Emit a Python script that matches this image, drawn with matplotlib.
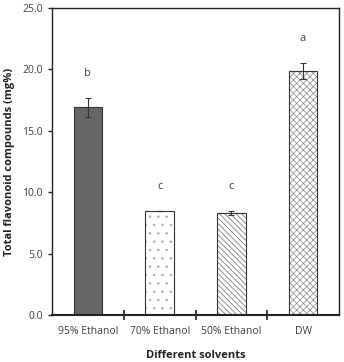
import matplotlib
matplotlib.use("Agg")
import matplotlib.pyplot as plt
import numpy as np

categories = ["95% Ethanol", "70% Ethanol", "50% Ethanol", "DW"]
values = [16.9, 8.45, 8.3, 19.9]
errors = [0.8, 0.0, 0.15, 0.65]
letters = ["b", "c", "c", "a"]
yticks = [0.0, 5.0, 10.0, 15.0, 20.0, 25.0]

plt.rcParams['font.family'] = ['Open Sans', 'DejaVu Sans']
plt.rcParams['hatch.linewidth'] = 0.5

fig = plt.figure(figsize=(3.44, 3.62), dpi=100)
ax = fig.add_axes([52/344, 1 - 315/362, (339-52)/344, (315-8)/362])

x = np.arange(len(categories))
faces = ["#666666", "white", "white", "white"]
hatches = ["", "..", "\\\\\\\\\\\\", "xxxxx"]
hcolors = ["#555555", "#aaaaaa", "#666666", "#888888"]
for xi, v, fc, h, hc in zip(x, values, faces, hatches, hcolors):
    ax.bar(xi, v, width=0.4, color=fc, edgecolor=hc, hatch=h, linewidth=0)
    ax.bar(xi, v, width=0.4, color="none", edgecolor="#333333", linewidth=0.8)

ax.errorbar(x, values, yerr=errors, fmt="none", ecolor="#333333",
            elinewidth=0.8, capsize=2.5, capthick=0.8)

for xi, v, e, t in zip(x, values, errors, letters):
    ax.text(xi, v + e + 2.0, t, ha="center", va="center", fontsize=8, color="#404040")

ax.set_xlim(-0.5, 3.5)
ax.set_ylim(0, 25)
ax.set_yticks(yticks)
ax.set_yticklabels([f"{t:.1f}" for t in yticks], fontsize=7.5, color="#404040")
ax.set_xticks(x)
ax.set_xticklabels(categories, fontsize=7.5, color="#404040")
ax.tick_params(axis="x", length=0, pad=8)
ax.set_xticks([0.5, 1.5, 2.5], minor=True)
ax.tick_params(axis="x", which="minor", direction="inout", length=7, width=1.2, color="#222222")
ax.tick_params(axis="y", direction="out", length=3, width=1, color="#222222")

for s in ax.spines.values():
    s.set_color("#222222")
    s.set_linewidth(1.0)
ax.spines["bottom"].set_linewidth(1.5)

ax.set_ylabel("Total flavonoid compounds (mg%)", fontsize=8, fontweight="bold", color="#222222", labelpad=5)
ax.set_xlabel("Different solvents", fontsize=8, fontweight="bold", color="#222222", labelpad=9)

fig.savefig("out.png", dpi=100)
